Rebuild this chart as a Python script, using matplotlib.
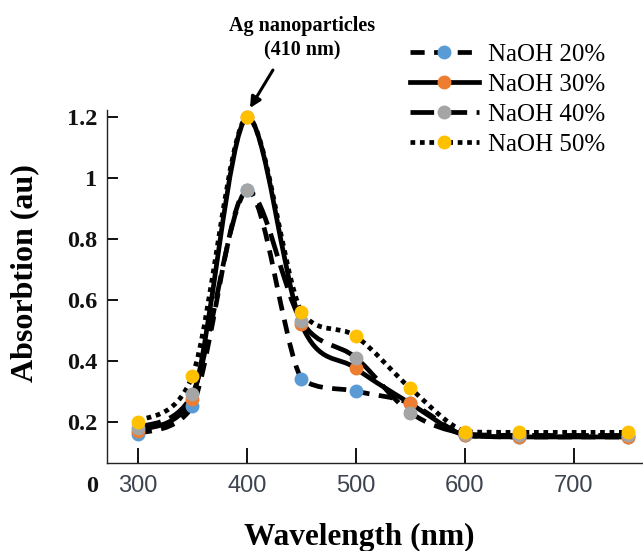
import matplotlib
matplotlib.use('agg')
import matplotlib.pyplot as plt
from matplotlib.path import Path
from matplotlib.patches import PathPatch
from matplotlib.lines import Line2D
import numpy as np

# values
wavelength = [300, 350, 400, 450, 500, 550, 600, 650, 750]
naoh_20 = [0.16, 0.25, 0.96, 0.34, 0.30, 0.26, 0.155, 0.15, 0.15]
naoh_30 = [0.17, 0.275, 1.20, 0.52, 0.375, 0.26, 0.155, 0.15, 0.15]
naoh_40 = [0.18, 0.29, 0.96, 0.53, 0.41, 0.23, 0.16, 0.155, 0.155]
naoh_50 = [0.20, 0.35, 1.20, 0.56, 0.48, 0.31, 0.167, 0.165, 0.165]
labels = ['NaOH 20%', 'NaOH 30%', 'NaOH 40%', 'NaOH 50%']
y_ticks = [0.2, 0.4, 0.6, 0.8, 1.0, 1.2]
y_ticklabels = ['0.2', '0.4', '0.6', '0.8', '1', '1.2']
x_ticks = [300, 400, 500, 600, 700]

colors = ['#5B9BD5', '#ED7D31', '#A5A5A5', '#FFC000']
styles = [(0, (3, 2)), '-', (0, (5, 2)), (0, (1, 1))]

serif = ['Liberation Serif', 'DejaVu Serif']
tick_font = ['Liberation Sans Narrow', 'Liberation Sans', 'DejaVu Sans']


def smooth_path(x, y):
    # smoothed line like excel: cubic bezier through every point,
    # control points kept inside each segment's y range (no dips)
    pts = np.column_stack([x, y]).astype(float)
    n = len(pts)
    verts = [pts[0]]
    codes = [Path.MOVETO]
    for i in range(n - 1):
        p0 = pts[i - 1] if i > 0 else pts[i]
        p3 = pts[i + 2] if i + 2 < n else pts[i + 1]
        c1 = pts[i] + (pts[i + 1] - p0) / 6
        c2 = pts[i + 1] - (p3 - pts[i]) / 6
        lo = min(pts[i][1], pts[i + 1][1])
        hi = max(pts[i][1], pts[i + 1][1])
        c1[1] = np.clip(c1[1], lo, hi)
        c2[1] = np.clip(c2[1], lo, hi)
        verts += [c1, c2, pts[i + 1]]
        codes += [Path.CURVE4] * 3
    return Path(verts, codes)


fig = plt.figure(figsize=(6.43, 5.51), dpi=100)
ax = fig.add_axes([107 / 643, 88 / 551, 536 / 643, 353 / 551])

series = [naoh_20, naoh_30, naoh_40, naoh_50]
for vals, ls in zip(series, styles):
    patch = PathPatch(smooth_path(wavelength, vals), fill=False, edgecolor='black',
                      lw=3.4, linestyle=ls, capstyle='butt', joinstyle='round', zorder=2)
    ax.add_patch(patch)
for i, (vals, c) in enumerate(zip(series, colors)):
    ax.plot(wavelength, vals, linestyle='none', marker='o', ms=9,
            markerfacecolor=c, markeredgecolor=c, zorder=3 + i)

ax.set_xlim(271.5, 763.8)
ax.set_ylim(0.0646, 1.222)

for s in ['top', 'right']:
    ax.spines[s].set_visible(False)
for s in ['left', 'bottom']:
    ax.spines[s].set_linewidth(1.0)
    ax.spines[s].set_color('#222222')

ax.set_yticks(y_ticks)
ax.set_yticklabels(y_ticklabels, fontfamily=serif, fontweight='bold', fontsize=17.5)
ax.tick_params(axis='y', direction='in', length=8, width=1.4, pad=7, colors='#111111')
ax.set_xticks(x_ticks)
ax.set_xticklabels([str(v) for v in x_ticks], fontfamily=tick_font, fontsize=17, color='#3d4450')
ax.tick_params(axis='x', direction='in', length=11, width=1.4, pad=8.5, color='#111111')

ax.annotate('0', xy=(0, 0), xycoords='axes fraction', xytext=(-10.5, -9),
            textcoords='offset points', ha='center', va='top',
            fontfamily=serif, fontweight='bold', fontsize=17.5, color='#111111')

ax.set_xlabel('Wavelength (nm)', fontfamily=serif, fontweight='bold', fontsize=22.5)
ax.xaxis.label.set_va('center')
ax.xaxis.set_label_coords(0.47, -0.2096)
ax.set_ylabel('Absorbtion (au)', fontfamily=serif, fontweight='bold', fontsize=23)
ax.yaxis.label.set_va('center')
ax.yaxis.set_label_coords(-0.153, 0.538)

ax.text(450.5, 1.456, 'Ag nanoparticles\n(410 nm)', ha='center', va='center',
        fontfamily=serif, fontweight='bold', fontsize=14.5, linespacing=1.3, clip_on=False)
ax.annotate('', xy=(402.8, 1.2285), xytext=(423.9, 1.353), annotation_clip=False,
            arrowprops=dict(arrowstyle='-|>', color='black', lw=2.2, mutation_scale=16,
                            shrinkA=0, shrinkB=0))

handles = [Line2D([], [], color='black', lw=3.4, linestyle=ls, marker='o', ms=9,
                  markerfacecolor=c, markeredgecolor=c, dash_capstyle='butt')
           for ls, c in zip(styles, colors)]
leg = fig.legend(handles, labels, loc='upper left', bbox_to_anchor=(387 / 643, 1 - 21 / 551),
                 frameon=False, handlelength=2.76, handletextpad=0.4, labelspacing=0.3,
                 prop={'family': serif, 'size': 18}, markerscale=1.0)

fig.savefig('out.png', dpi=100)
